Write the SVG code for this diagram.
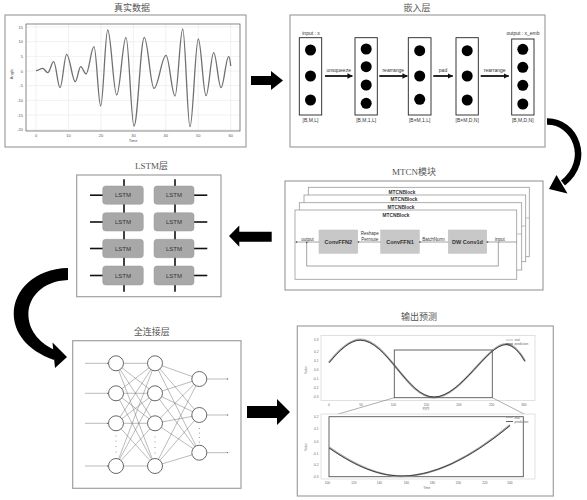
<svg xmlns="http://www.w3.org/2000/svg" width="587" height="500" viewBox="0 0 587 500">
<defs>
<style>
.title{font-family:"Liberation Serif","Noto Sans CJK SC",serif;font-size:9px;fill:#555;text-anchor:middle}
.panel{fill:#fff;stroke:#a0a0a0;stroke-width:1.2}
.s{font-family:"Liberation Sans",Arial,sans-serif;fill:#333}
.tk{font-family:"Liberation Sans",Arial,sans-serif;font-size:4px;fill:#555}
.tk2{font-family:"Liberation Sans",Arial,sans-serif;font-size:3.2px;fill:#666}
.grid{stroke:#e2e2e2;stroke-width:0.5}
.col{fill:#fff;stroke:#222;stroke-width:0.9}
.blk{fill:#fff;stroke:#999;stroke-width:0.8}
.cv{fill:#c8c8c8;stroke:#bbb;stroke-width:0.5}
.ls{fill:#a8a8a8;stroke:#999;stroke-width:0.5}
.lk{stroke:#111;stroke-width:1.6}
.neu{fill:#fff;stroke:#444;stroke-width:0.8}
.w{stroke:#666;stroke-width:0.45;fill:none}
</style>
<marker id="ah" viewBox="0 0 10 10" refX="9" refY="5" markerWidth="3" markerHeight="3" orient="auto"><path d="M0,0 L10,5 L0,10 z" fill="#111"/></marker>
<marker id="sm" viewBox="0 0 10 10" refX="9" refY="5" markerWidth="4" markerHeight="4" orient="auto"><path d="M0,2 L10,5 L0,8 z" fill="#333"/></marker>
</defs>
<rect width="587" height="500" fill="#fff"/>

<!-- Panel 1: real data -->
<g id="panel-data">
<text class="title" x="132" y="11">真实数据</text>
<rect class="panel" x="5" y="15" width="241" height="132"/>
<g>
<line class="grid" x1="36" y1="24" x2="36" y2="131"/><line class="grid" x1="68.5" y1="24" x2="68.5" y2="131"/><line class="grid" x1="101" y1="24" x2="101" y2="131"/><line class="grid" x1="133.4" y1="24" x2="133.4" y2="131"/><line class="grid" x1="165.8" y1="24" x2="165.8" y2="131"/><line class="grid" x1="198.2" y1="24" x2="198.2" y2="131"/><line class="grid" x1="230.7" y1="24" x2="230.7" y2="131"/>
<line class="grid" x1="26" y1="27" x2="240" y2="27"/><line class="grid" x1="26" y1="41.7" x2="240" y2="41.7"/><line class="grid" x1="26" y1="56.4" x2="240" y2="56.4"/><line class="grid" x1="26" y1="71" x2="240" y2="71"/><line class="grid" x1="26" y1="85.7" x2="240" y2="85.7"/><line class="grid" x1="26" y1="100.4" x2="240" y2="100.4"/><line class="grid" x1="26" y1="115" x2="240" y2="115"/><line class="grid" x1="26" y1="129.8" x2="240" y2="129.8"/>
</g>
<rect x="26" y="24" width="214" height="107" fill="none" stroke="#555" stroke-width="0.7"/>
<g class="tk" text-anchor="end">
<text x="23" y="28.5">15</text><text x="23" y="43.2">10</text><text x="23" y="57.9">5</text><text x="23" y="72.5">0</text><text x="23" y="87.2">-5</text><text x="23" y="101.9">-10</text><text x="23" y="116.5">-15</text><text x="23" y="131.3">-20</text>
</g>
<g class="tk" text-anchor="middle">
<text x="36" y="137">0</text><text x="68.5" y="137">10</text><text x="101" y="137">20</text><text x="133.4" y="137">30</text><text x="165.8" y="137">40</text><text x="198.2" y="137">50</text><text x="230.7" y="137">60</text>
<text x="133" y="142">Time</text>
<text x="13" y="74" transform="rotate(-90 13 74)">Angle</text>
</g>
<path fill="none" stroke="#707070" stroke-width="1.3" d="M36,70.7 C38.44,70.7 40.26,68.3 42.7,68.3 C44.52,68.3 45.88,72.7 47.7,72.7 C49.88,72.7 51.52,61.7 53.7,61.7 C55.99,61.7 57.71,87.7 60,87.7 C62.44,87.7 64.26,54.3 66.7,54.3 C69.83,54.3 72.17,81.7 75.3,81.7 C77.27,81.7 78.73,66.7 80.7,66.7 C82.63,66.7 84.07,74 86,74 C88.91,74 91.09,46.7 94,46.7 C96.44,46.7 98.26,106 100.7,106 C103.25,106 105.15,30 107.7,30 C110.98,30 113.42,95 116.7,95 C120.09,95 122.61,37.3 126,37.3 C128.91,37.3 131.09,126 134,126 C137.75,126 140.55,37.3 144.3,37.3 C147.83,37.3 150.47,88.3 154,88.3 C158.37,88.3 161.63,55.3 166,55.3 C169.28,55.3 171.72,96 175,96 C177.8,96 179.9,29 182.7,29 C185.36,29 187.34,126.7 190,126.7 C193.02,126.7 195.28,39 198.3,39 C201.1,39 203.2,95.7 206,95.7 C208.8,95.7 210.9,52.7 213.7,52.7 C216.36,52.7 218.34,87.7 221,87.7 C223.8,87.7 225.9,56.7 228.7,56.7 C229.5,56.7 230.3,62 230.7,66"/>
</g>

<!-- Panel 2: embedding -->
<g id="panel-embed">
<text class="title" x="417" y="11">嵌入层</text>
<rect class="panel" x="290" y="15" width="255" height="132"/>
<rect class="col" x="299.3" y="37.7" width="22.4" height="77.3"/>
<circle cx="310.5" cy="50" r="5.5"/><circle cx="310.5" cy="76" r="5.5"/><circle cx="310.5" cy="100" r="5.5"/>
<rect class="col" x="355" y="37.7" width="22.3" height="77.3"/>
<circle cx="366.2" cy="49" r="5.5"/><circle cx="366.2" cy="66.7" r="5.5"/><circle cx="366.2" cy="85" r="5.5"/><circle cx="366.2" cy="103.3" r="5.5"/>
<rect class="col" x="408.3" y="37.7" width="22.7" height="77.3"/>
<circle cx="419.7" cy="50.7" r="5.5"/><circle cx="419.7" cy="76" r="5.5"/><circle cx="419.7" cy="99.3" r="5.5"/>
<rect class="col" x="456" y="37.7" width="22.3" height="77.3"/>
<circle cx="467.2" cy="50.7" r="5.5"/><circle cx="467.2" cy="76" r="5.5"/><circle cx="467.2" cy="100" r="5.5"/>
<rect class="col" x="511.7" y="39" width="22.3" height="76"/>
<circle cx="522.8" cy="49.3" r="5.5"/><circle cx="522.8" cy="67.3" r="5.5"/><circle cx="522.8" cy="85.3" r="5.5"/><circle cx="522.8" cy="104" r="5.5"/>
<g class="s" font-size="5" text-anchor="middle">
<text x="311" y="35">input : x</text>
<text x="523" y="35">output : x_emb</text>
<text x="310.5" y="121.5">[B,M,L]</text>
<text x="366.2" y="121.5">[B,M,1,L]</text>
<text x="419.7" y="121.5">[B×M,1,L]</text>
<text x="467.2" y="121.5">[B×M,D,N]</text>
<text x="522.8" y="121.5">[B,M,D,N]</text>
<text x="338.7" y="72">unsqueeze</text>
<text x="393.3" y="72">rearrange</text>
<text x="443" y="72">pad</text>
<text x="494.7" y="72">rearrange</text>
</g>
<g stroke="#111" stroke-width="1.8" marker-end="url(#ah)">
<line x1="325" y1="76" x2="352.3" y2="76"/>
<line x1="379.3" y1="76" x2="407.3" y2="76"/>
<line x1="433.3" y1="76" x2="452.7" y2="76"/>
<line x1="480.7" y1="76" x2="508.7" y2="76"/>
</g>
</g>

<!-- Panel 3: MTCN -->
<g id="panel-mtcn">
<text class="title" x="414" y="175">MTCN模块</text>
<rect class="panel" x="285" y="181" width="258" height="109"/>
<rect class="blk" x="308.3" y="187.3" width="221" height="69.4"/>
<rect class="blk" x="304" y="195" width="221.7" height="66.7"/>
<rect class="blk" x="299.3" y="202.7" width="222.4" height="67.3"/>
<rect class="blk" x="295" y="210" width="221.7" height="69.3"/>
<g stroke="#999" stroke-width="0.6">
<line x1="525.7" y1="218" x2="529.3" y2="218"/>
<line x1="521.7" y1="226" x2="525.7" y2="226"/>
<line x1="516.7" y1="234" x2="521.7" y2="234"/>
</g>
<g class="s" font-size="4.8" font-weight="bold" text-anchor="middle" fill="#444">
<text x="402" y="194">MTCNBlock</text>
<text x="404" y="201">MTCNBlock</text>
<text x="401" y="208.5">MTCNBlock</text>
<text x="396" y="216.5">MTCNBlock</text>
</g>
<rect class="cv" x="319" y="230" width="38.7" height="23.3"/>
<rect class="cv" x="380.7" y="230" width="38.6" height="23.3"/>
<rect class="cv" x="448.3" y="230" width="38.4" height="23.3"/>
<g class="s" font-size="5.5" font-weight="bold" text-anchor="middle" fill="#444">
<text x="338.3" y="243.8">ConvFFN2</text>
<text x="400" y="243.8">ConvFFN1</text>
<text x="467.5" y="243.8">DW Conv1d</text>
</g>
<g class="s" font-size="4.5" text-anchor="middle" fill="#444">
<text x="369.7" y="234.5">Reshape</text>
<text x="369.7" y="240.5">Permute</text>
<text x="433.5" y="240.5">BatchNorm</text>
<text x="500" y="240.5">input</text>
<text x="307.5" y="240.5">output</text>
</g>
<g fill="none" stroke="#666" stroke-width="0.6">
<path d="M516.7,242 L486.7,242"/>
<path d="M448.3,242 L419.3,242"/>
<path d="M380.7,242 L357.7,242"/>
<path d="M319,242 L296,242"/>
<path d="M498.3,242 L498.3,266 L306.7,266 L306.7,242"/>
</g>
<g fill="#444">
<circle cx="487.5" cy="242" r="0.8"/><circle cx="420" cy="242" r="0.8"/><circle cx="358.5" cy="242" r="0.8"/><circle cx="296.5" cy="242" r="0.8"/><circle cx="306.7" cy="242.5" r="0.7"/>
</g>
</g>

<!-- Panel 4: LSTM -->
<g id="panel-lstm">
<text class="title" x="151.5" y="169">LSTM层</text>
<rect class="panel" x="76.7" y="175" width="144.3" height="121.7"/>
<g class="lk">
<line x1="124" y1="179.3" x2="124" y2="291.7"/>
<line x1="175" y1="179.3" x2="175" y2="291.7"/>
<line x1="90" y1="195.2" x2="103" y2="195.2"/><line x1="90" y1="222" x2="103" y2="222"/><line x1="90" y1="248.5" x2="103" y2="248.5"/><line x1="90" y1="275.5" x2="103" y2="275.5"/>
<line x1="194" y1="195.2" x2="207.3" y2="195.2"/><line x1="194" y1="222" x2="207.3" y2="222"/><line x1="194" y1="248.5" x2="207.3" y2="248.5"/><line x1="194" y1="275.5" x2="207.3" y2="275.5"/>
</g>
<g>
<rect class="ls" x="102.7" y="186" width="40.6" height="18.3" rx="3"/>
<rect class="ls" x="102.7" y="212.7" width="40.6" height="18.3" rx="3"/>
<rect class="ls" x="102.7" y="239.3" width="40.6" height="18.4" rx="3"/>
<rect class="ls" x="102.7" y="266" width="40.6" height="19" rx="3"/>
<rect class="ls" x="154" y="186" width="40" height="18.3" rx="3"/>
<rect class="ls" x="154" y="212.7" width="40" height="18.3" rx="3"/>
<rect class="ls" x="154" y="239.3" width="40" height="18.4" rx="3"/>
<rect class="ls" x="154" y="266" width="40" height="19" rx="3"/>
</g>
<g class="s" font-size="6" text-anchor="middle" fill="#333">
<text x="123" y="197.3">LSTM</text><text x="123" y="224">LSTM</text><text x="123" y="250.6">LSTM</text><text x="123" y="277.6">LSTM</text>
<text x="174" y="197.3">LSTM</text><text x="174" y="224">LSTM</text><text x="174" y="250.6">LSTM</text><text x="174" y="277.6">LSTM</text>
</g>
</g>

<!-- Panel 5: fully connected -->
<g id="panel-fc">
<text class="title" x="151.7" y="335">全连接层</text>
<rect class="panel" x="72.7" y="340.7" width="168.3" height="147.6"/>
<g class="w">
<path d="M116,363.3 L155,363.3 M116,363.3 L155,393.3 M116,363.3 L155,423.3 M116,363.3 L155,466"/>
<path d="M116,393.3 L155,363.3 M116,393.3 L155,393.3 M116,393.3 L155,423.3 M116,393.3 L155,466"/>
<path d="M116,423.3 L155,363.3 M116,423.3 L155,393.3 M116,423.3 L155,423.3 M116,423.3 L155,466"/>
<path d="M116,466 L155,363.3 M116,466 L155,393.3 M116,466 L155,423.3 M116,466 L155,466"/>
<path d="M155,363.3 L199.3,379 M155,363.3 L199.3,415 M155,363.3 L199.3,452.7"/>
<path d="M155,393.3 L199.3,379 M155,393.3 L199.3,415 M155,393.3 L199.3,452.7"/>
<path d="M155,423.3 L199.3,379 M155,423.3 L199.3,415 M155,423.3 L199.3,452.7"/>
<path d="M155,466 L199.3,379 M155,466 L199.3,415 M155,466 L199.3,452.7"/>
</g>
<g class="w" stroke-width="0.6" marker-end="url(#sm)">
<line x1="85" y1="363.3" x2="108.5" y2="363.3"/><line x1="85" y1="393.3" x2="108.5" y2="393.3"/><line x1="85" y1="423.3" x2="108.5" y2="423.3"/><line x1="85" y1="466" x2="108.5" y2="466"/>
<line x1="206.8" y1="379" x2="228.3" y2="379"/><line x1="206.8" y1="415" x2="228.3" y2="415"/><line x1="206.8" y1="452.7" x2="228.3" y2="452.7"/>
</g>
<g>
<circle class="neu" cx="116" cy="363.3" r="7.5"/><circle class="neu" cx="116" cy="393.3" r="7.5"/><circle class="neu" cx="116" cy="423.3" r="7.5"/><circle class="neu" cx="116" cy="466" r="7.5"/>
<circle class="neu" cx="155" cy="363.3" r="7.5"/><circle class="neu" cx="155" cy="393.3" r="7.5"/><circle class="neu" cx="155" cy="423.3" r="7.5"/><circle class="neu" cx="155" cy="466" r="7.5"/>
<circle class="neu" cx="199.3" cy="379" r="7.5"/><circle class="neu" cx="199.3" cy="415" r="7.5"/><circle class="neu" cx="199.3" cy="452.7" r="7.5"/>
</g>
<g fill="#777">
<circle cx="116" cy="436" r="0.5"/><circle cx="116" cy="441" r="0.5"/><circle cx="116" cy="446.5" r="0.5"/><circle cx="116" cy="452" r="0.5"/>
<circle cx="155" cy="437" r="0.5"/><circle cx="155" cy="442" r="0.5"/><circle cx="155" cy="447.5" r="0.5"/><circle cx="155" cy="453" r="0.5"/>
<circle cx="199.3" cy="428.5" r="0.5"/><circle cx="199.3" cy="433" r="0.5"/><circle cx="199.3" cy="437.5" r="0.5"/><circle cx="199.3" cy="442" r="0.5"/>
</g>
</g>

<!-- Panel 6: output prediction -->
<g id="panel-output">
<text class="title" x="419" y="320">输出预测</text>
<rect class="panel" x="297.3" y="326" width="256" height="170"/>
<rect x="321" y="335.5" width="214" height="65" fill="#fff" stroke="#ccc" stroke-width="0.6"/>
<g class="tk2" text-anchor="end">
<text x="318.5" y="341">0.3</text><text x="318.5" y="352.5">0.2</text><text x="318.5" y="362">0.1</text><text x="318.5" y="371">0.0</text><text x="318.5" y="380">-0.1</text><text x="318.5" y="389">-0.2</text><text x="318.5" y="398">-0.3</text>
</g>
<g class="tk2" text-anchor="middle">
<text x="329" y="405.5">0</text><text x="361" y="405.5">50</text><text x="393.3" y="405.5">100</text><text x="426.3" y="405.5">150</text><text x="459" y="405.5">200</text><text x="491.7" y="405.5">250</text><text x="524" y="405.5">300</text>
<text x="426" y="409.5" font-family="Noto Sans CJK SC,sans-serif">时间</text>
<text x="307" y="370" transform="rotate(-90 307 370)">Value</text>
</g>
<path d="M329,362.3 C339,350 350,339.5 360,339.5 C387,339.5 407,397.5 434,397.5 C461,397.5 487,344 506,344 C513,344 520,352 525,361" fill="none" stroke="#aaa" stroke-width="2"/>
<path d="M329,362.8 C339,350.5 350,340.2 360,340.2 C387,340.2 407,397 434,397 C461,397 487,344.6 506,344.6 C513,344.6 520,352.6 525,361.5" fill="none" stroke="#333" stroke-width="0.9"/>
<rect x="394.3" y="350" width="98" height="47.7" fill="none" stroke="#555" stroke-width="0.9"/>
<line x1="394.3" y1="397.7" x2="329.3" y2="416.7" stroke="#777" stroke-width="0.6"/>
<line x1="492.3" y1="397.7" x2="526" y2="415" stroke="#777" stroke-width="0.6"/>
<line x1="506" y1="340" x2="513" y2="340" stroke="#aaa" stroke-width="0.8"/>
<line x1="506" y1="344" x2="513" y2="344" stroke="#333" stroke-width="0.8"/>
<text class="tk2" x="514.5" y="341" font-size="2.8">real</text>
<text class="tk2" x="514.5" y="345" font-size="2.8">prediction</text>

<rect x="321" y="414" width="214" height="65" fill="#fff" stroke="#ccc" stroke-width="0.6"/>
<rect x="329" y="416.7" width="194.3" height="60" fill="none" stroke="#555" stroke-width="0.9"/>
<g class="tk2" text-anchor="end">
<text x="318.5" y="418">0.2</text><text x="318.5" y="430">0.1</text><text x="318.5" y="442.5">0.0</text><text x="318.5" y="454.5">-0.1</text><text x="318.5" y="466">-0.2</text><text x="318.5" y="477.5">-0.3</text>
</g>
<g class="tk2" text-anchor="middle">
<text x="327.3" y="484">100</text><text x="354" y="484">120</text><text x="379.3" y="484">140</text><text x="406.3" y="484">160</text><text x="432.3" y="484">180</text><text x="458.3" y="484">200</text><text x="485" y="484">220</text><text x="510" y="484">240</text>
<text x="426.7" y="488.5">Time</text>
<text x="307" y="447" transform="rotate(-90 307 447)">Value</text>
</g>
<path d="M329,447.3 C350,462 375,476.3 401.7,476.3 C440,476.3 480,450 510,425" fill="none" stroke="#aaa" stroke-width="2"/>
<path d="M329,447.9 C350,462.6 375,476 401.7,476 C440,476 480,450.6 510,425.6" fill="none" stroke="#333" stroke-width="0.9"/>
<line x1="506" y1="417.5" x2="513" y2="417.5" stroke="#aaa" stroke-width="0.8"/>
<line x1="506" y1="421.5" x2="513" y2="421.5" stroke="#333" stroke-width="0.8"/>
<text class="tk2" x="514.5" y="418.5" font-size="2.8">real</text>
<text class="tk2" x="514.5" y="422.5" font-size="2.8">prediction</text>
</g>

<!-- Connectors -->
<g id="connectors" fill="#000">
<polygon points="251,76 271,76 271,71 283,80.5 271,90 271,85 251,85"/>
<path d="M547,121.5 C575,121 592,160 563,183" fill="none" stroke="#000" stroke-width="6.5"/>
<polygon points="556.5,175 567.5,193.5 549,189"/>
<polygon points="271.7,231.7 239.3,231.7 239.3,225.5 229,236 239.3,246.7 239.3,241.7 271.7,241.7"/>
<path d="M68,268 C8,269 -10,338 54,360 L55,350 C14,332 22,282 68,280 Z"/>
<polygon points="52.5,342.5 67,357 55,368"/>
<polygon points="247,406 277,406 277,399 290,412 277,425 277,418 247,418"/>
</g>
</svg>
